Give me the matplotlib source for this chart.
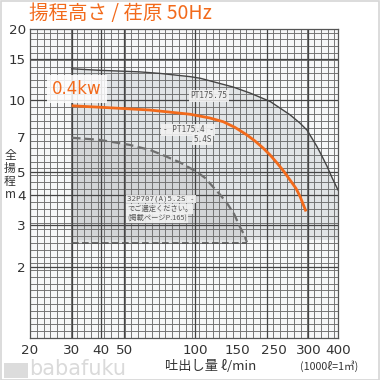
import numpy as np
import matplotlib
matplotlib.use("Agg")
import matplotlib.pyplot as plt
from matplotlib.patches import Rectangle

# ---- data ----
pt75_flow = [30, 39.4, 58, 71, 95, 105, 144, 170, 207, 251, 276, 296, 326, 342, 359, 378, 400]
pt75_head = [13.6, 13.4, 13.2, 13.0, 12.6, 12.4, 11.4, 10.75, 9.9, 8.7, 8.04, 7.5, 6.4, 5.84, 5.3, 4.72, 4.2]

kw04_flow = [30, 40, 64, 95, 115, 131, 147, 165, 178.5, 193, 206.5, 221, 236.5, 251, 266, 277, 293]
kw04_head = [9.5, 9.36, 9.12, 8.75, 8.44, 8.14, 7.7, 7.16, 6.75, 6.31, 5.9, 5.46, 5.02, 4.62, 4.26, 3.93, 3.41]

p32_flow = [30, 39.3, 52.9, 64.3, 72.9, 86.2, 101.5, 109.8, 118.6, 126.9, 135.8, 145.5, 154, 160, 165]
p32_head = [6.97, 6.83, 6.5, 6.19, 5.89, 5.48, 5.0, 4.72, 4.33, 4.02, 3.70, 3.33, 2.94, 2.74, 2.53]
p32_floor = 2.5

x_tick_pos = [20, 30, 40, 50, 100, 150, 215, 300, 400]
x_tick_lbl = ["20", "30", "40", "50", "100", "150", "250", "300", "400"]
y_tick_pos = [2, 3, 4, 5, 7, 10, 15, 20]
y_tick_lbl = ["2", "3", "4", "5", "7", "10", "15", "20"]

ORANGE = "#f26a1b"
CJK = ["Noto Sans CJK JP", "DejaVu Sans"]

fig = plt.figure(figsize=(3.8, 3.8), dpi=100, facecolor="white")
W = H = 380.0
ax = fig.add_axes([30 / W, 1 - 338 / H, 308 / W, 309 / H])
ax.set_xscale("log")
ax.set_yscale("log")
ax.set_xlim(20, 400)
ax.set_ylim(1.0, 20)
ax.set_facecolor("#f6f7f8")

# shaded regions
ax.fill_between(np.array(pt75_flow, float), np.array(pt75_head), 2.6,
                color="#c9cdd2", alpha=0.45, lw=0, zorder=0.5)
ax.fill_between(np.array(p32_flow, float), np.array(p32_head), p32_floor,
                color="#b9bbbd", alpha=0.35, lw=0, zorder=0.6)

# grid (log paper)
lx0, lx1 = np.log10(20), np.log10(400)
for v in 10 ** np.arange(lx0, lx1 + 1e-9, 1 / 35):
    ax.axvline(v, color="#6e6e6e", lw=0.65, zorder=1)
for v in 10 ** np.arange(0, np.log10(20) + 1e-9, 1 / 35):
    ax.axhline(v, color="#6e6e6e", lw=0.65, zorder=1)
for v in [30, 40, 50, 100, 200, 300]:
    ax.axvline(v, color="#444444", lw=0.9, zorder=1.1)
for v in [2, 3, 4, 5, 10, 15]:
    ax.axhline(v, color="#444444", lw=0.9, zorder=1.1)

# curves
ax.plot(pt75_flow, pt75_head, color="#454545", lw=1.0, zorder=3)
ax.plot(p32_flow, p32_head, color="#6f6f6f", lw=1.6, ls=(0, (4, 2)), zorder=3)
ax.plot([30, 165], [p32_floor, p32_floor], color="#555555", lw=1.2, ls=(0, (4, 2)), zorder=3)
ax.plot(kw04_flow, kw04_head, color=ORANGE, lw=2.0, zorder=4, solid_capstyle="butt")

for s in ax.spines.values():
    s.set_color("#555555")
    s.set_linewidth(0.9)

ax.set_xticks(x_tick_pos)
ax.set_xticklabels(x_tick_lbl)
ax.set_yticks(y_tick_pos)
ax.set_yticklabels(y_tick_lbl)
ax.minorticks_off()
ax.tick_params(length=0, labelsize=9.7, labelcolor="#333333", pad=4)
ax.tick_params(axis="y", pad=3)

# in-chart labels
box = dict(boxstyle="square,pad=0.15", fc="#f2f2f2", ec="none", alpha=0.9)
def px(x, y):
    return (x / W, 1 - y / H)

fig.text(*px(209, 96), "PT175.75", fontsize=5.6, family="DejaVu Sans Mono",
         color="#555555", ha="center", va="center", bbox=box, zorder=5)
fig.text(*px(188, 130), "- PT175.4 -", fontsize=5.6, family="DejaVu Sans Mono",
         color="#555555", ha="center", va="center", bbox=box, zorder=5)
fig.text(*px(212, 139), "5.4S", fontsize=5.6, family="DejaVu Sans Mono",
         color="#555555", ha="right", va="center", bbox=box, zorder=5)
fig.text(*px(127, 199), "32P707(A)5.2S -", fontsize=5.4, family="DejaVu Sans Mono",
         color="#555555", ha="left", va="center", bbox=box, zorder=5)
fig.text(*px(127, 209), "でご選定ください。", fontsize=5.2, family=CJK,
         color="#555555", ha="left", va="center", bbox=box, zorder=5)
fig.text(*px(127, 218), "(掲載ページP.165)", fontsize=5.2, family=CJK,
         color="#555555", ha="left", va="center", bbox=box, zorder=5)

fig.text(*px(52, 89), "0.4kw", fontsize=12, color=ORANGE, ha="left", va="center",
         family="DejaVu Sans",
         bbox=dict(boxstyle="square,pad=0.3", fc="white", ec="none", alpha=0.85), zorder=6)

# titles and axis labels
fig.text(*px(29, 14), "揚程高さ / 荏原 50Hz", fontsize=14, color=ORANGE,
         family=CJK, ha="left", va="center")
fig.text(*px(10, 175), "全\n揚\n程\nm", fontsize=8.5, color="#333333", family=CJK,
         ha="center", va="center", linespacing=1.0)
fig.text(*px(211, 366), "吐出し量 ℓ/min", fontsize=9.5, color="#333333", family=CJK,
         ha="center", va="center")
fig.text(*px(329, 366), "(1000ℓ=1㎥)", fontsize=7.7, color="#333333", family=CJK,
         ha="center", va="center")

# watermark
fig.patches.append(Rectangle((4 / W, 1 - 378 / H), 24 / W, 15 / H, transform=fig.transFigure,
                             fc="#dcdcdc", ec="none"))
fig.text(*px(78, 369), "babafuku", fontsize=15, color="#dadada", ha="center", va="center",
         family="DejaVu Sans")

# outer frame
fig.patches.append(Rectangle((0.5 / W, 0.5 / H), 378.5 / W, 378.5 / H, transform=fig.transFigure,
                             fc="none", ec="#d6d6d6", lw=1.2))

fig.savefig("out.png", dpi=100, facecolor="white")
